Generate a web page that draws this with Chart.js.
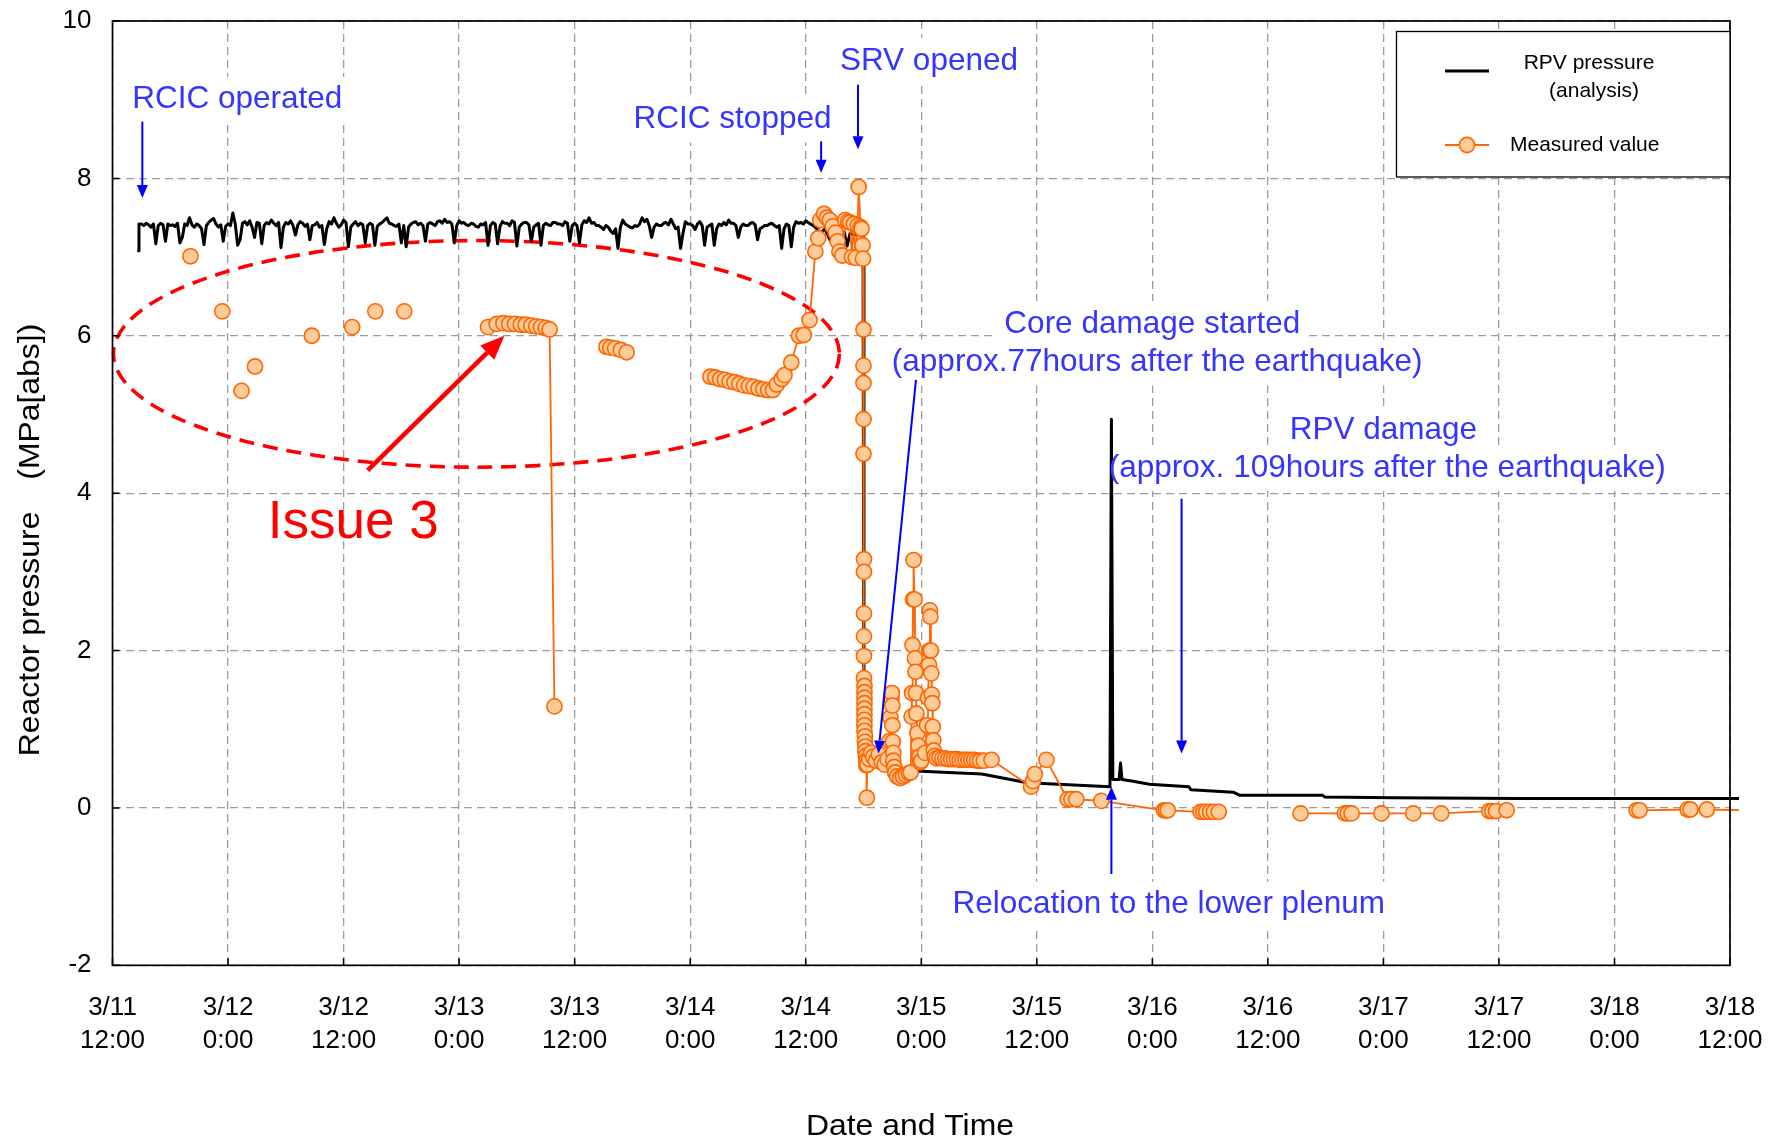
<!DOCTYPE html>
<html>
<head>
<meta charset="utf-8">
<script src="https://cdn.jsdelivr.net/npm/chart.js@4/dist/chart.umd.min.js"></script>
<style>
html,body{margin:0;padding:0;background:#fff;}
#wrap{width:1775px;height:1141px;position:relative;overflow:hidden;}
canvas{display:block;}
</style>
</head>
<body>
<div id="wrap"><canvas id="c" width="1775" height="1141"></canvas></div>
<script>
// ---------------- DATA (x = hours counted from 3/11 0:00) ----------------
const xTickHours = [12,24,36,48,60,72,84,96,108,120,132,144,156,168,180];
const xTickDates = ['3/11','3/12','3/12','3/13','3/13','3/14','3/14','3/15','3/15','3/16','3/16','3/17','3/17','3/18','3/18'];
const xTickTimes = ['12:00','0:00','12:00','0:00','12:00','0:00','12:00','0:00','12:00','0:00','12:00','0:00','12:00','0:00','12:00'];
const yTickValues = [-2,0,2,4,6,8,10];

const analysisLabel = 'RPV pressure (analysis)';
const analysisHours = [
 14.7,14.75,
 15.0,15.25,15.5,15.75,16.0,16.25,16.5,16.75,17.0,17.25,17.5,17.75,18.0,18.25,18.5,18.75,19.0,19.25,19.5,19.75,
 20.0,20.25,20.5,20.75,21.0,21.25,21.5,21.75,22.0,22.25,22.5,22.75,23.0,23.25,23.5,23.75,24.0,24.25,24.5,24.75,
 25.0,25.25,25.5,25.75,26.0,26.25,26.5,26.75,27.0,27.25,27.5,27.75,28.0,28.25,28.5,28.75,29.0,29.25,29.5,29.75,
 30.0,30.25,30.5,30.75,31.0,31.25,31.5,31.75,32.0,32.25,32.5,32.75,33.0,33.25,33.5,33.75,34.0,34.25,34.5,34.75,
 35.0,35.25,35.5,35.75,36.0,36.25,36.5,36.75,37.0,37.25,37.5,37.75,38.0,38.25,38.5,38.75,39.0,39.25,39.5,39.75,
 40.0,40.25,40.5,40.75,41.0,41.25,41.5,41.75,42.0,42.25,42.5,42.75,43.0,43.25,43.5,43.75,44.0,44.25,44.5,44.75,
 45.0,45.25,45.5,45.75,46.0,46.25,46.5,46.75,47.0,47.25,47.5,47.75,48.0,48.25,48.5,48.75,49.0,49.25,49.5,49.75,
 50.0,50.25,50.5,50.75,51.0,51.25,51.5,51.75,52.0,52.25,52.5,52.75,53.0,53.25,53.5,53.75,54.0,54.25,54.5,54.75,
 55.0,55.25,55.5,55.75,56.0,56.25,56.5,56.75,57.0,57.25,57.5,57.75,58.0,58.25,58.5,58.75,59.0,59.25,59.5,59.75,
 60.0,60.25,60.5,60.75,61.0,61.25,61.5,61.75,62.0,62.25,62.5,62.75,63.0,63.25,63.5,63.75,64.0,64.25,64.5,64.75,
 65.0,65.25,65.5,65.75,66.0,66.25,66.5,66.75,67.0,67.25,67.5,67.75,68.0,68.25,68.5,68.75,69.0,69.25,69.5,69.75,
 70.0,70.25,70.5,70.75,71.0,71.25,71.5,71.75,72.0,72.25,72.5,72.75,73.0,73.25,73.5,73.75,74.0,74.25,74.5,74.75,
 75.0,75.25,75.5,75.75,76.0,76.25,76.5,76.75,77.0,77.25,77.5,77.75,78.0,78.25,78.5,78.75,79.0,79.25,79.5,79.75,
 80.0,80.25,80.5,80.75,81.0,81.25,81.5,81.75,82.0,82.25,82.5,82.75,83.0,83.25,83.5,83.75,84.0,84.25,84.5,84.75,
 85.0,85.5,86.0,86.5,87.0,87.5,88.0,88.3,88.6,89.0,89.5,89.95,
 90.05,91.0,93.0,95.4,102.3,107.0,115.6,115.75,115.9,116.55,116.7,116.85,
 118.0,119.7,123.8,124.0,128.4,129.1,137.7,137.9,145.0,158.1,182.0
];
const analysisMPa = [
 7.08,7.42,
 7.42,7.40,7.43,7.41,7.38,7.42,7.17,7.40,7.43,7.41,7.20,7.42,7.40,7.41,7.39,7.43,7.18,7.25,7.42,7.40,
 7.50,7.41,7.38,7.42,7.40,7.36,7.16,7.40,7.44,7.47,7.49,7.42,7.38,7.41,7.20,7.39,7.42,7.40,7.56,7.42,
 7.15,7.22,7.43,7.45,7.41,7.46,7.38,7.25,7.44,7.43,7.17,7.40,7.44,7.42,7.47,7.43,7.40,7.44,7.12,7.38,
 7.44,7.42,7.46,7.40,7.28,7.41,7.45,7.43,7.39,7.42,7.22,7.40,7.41,7.44,7.38,7.40,7.16,7.36,7.45,7.42,
 7.50,7.43,7.38,7.41,7.47,7.44,7.13,7.38,7.42,7.45,7.40,7.43,7.41,7.18,7.40,7.43,7.41,7.15,7.39,7.42,
 7.44,7.47,7.50,7.43,7.42,7.40,7.39,7.42,7.18,7.40,7.13,7.38,7.42,7.44,7.45,7.41,7.43,7.40,7.20,7.42,
 7.44,7.42,7.40,7.45,7.46,7.43,7.48,7.44,7.45,7.42,7.18,7.40,7.46,7.43,7.44,7.41,7.40,7.43,7.42,7.39,
 7.38,7.42,7.41,7.44,7.15,7.40,7.44,7.42,7.17,7.39,7.45,7.43,7.43,7.40,7.46,7.44,7.14,7.38,7.42,7.44,
 7.44,7.41,7.20,7.38,7.41,7.43,7.15,7.40,7.43,7.41,7.40,7.44,7.44,7.42,7.42,7.40,7.45,7.43,7.20,7.40,
 7.43,7.40,7.18,7.41,7.46,7.44,7.50,7.43,7.44,7.40,7.40,7.38,7.35,7.40,7.38,7.33,7.30,7.36,7.11,7.38,
 7.47,7.42,7.40,7.38,7.37,7.40,7.39,7.42,7.50,7.45,7.48,7.40,7.25,7.38,7.42,7.40,7.40,7.43,7.44,7.41,
 7.48,7.42,7.36,7.38,7.11,7.30,7.45,7.42,7.42,7.40,7.35,7.42,7.45,7.40,7.15,7.38,7.40,7.42,7.15,7.36,
 7.42,7.40,7.44,7.41,7.47,7.43,7.43,7.40,7.25,7.38,7.42,7.40,7.40,7.43,7.44,7.41,7.22,7.36,7.38,7.40,
 7.40,7.42,7.43,7.40,7.38,7.40,7.11,7.36,7.42,7.40,7.13,7.38,7.45,7.43,7.44,7.42,7.46,7.44,7.42,7.40,
 7.38,7.30,7.36,7.22,7.36,7.25,7.32,7.14,7.30,7.28,7.30,7.25,
 0.75,0.62,0.53,0.47,0.43,0.32,0.27,4.94,0.36,0.36,0.57,0.36,
 0.34,0.30,0.27,0.23,0.20,0.16,0.16,0.14,0.13,0.12,0.12
];

const measuredLabel = 'Measured value';
const measuredHours = [
 20.1,21.7, 23.4,24.4, 25.4,26.1, 26.8,29.7, 32.7,34.8, 36.9,38.1, 39.3,40.8, 42.3,46.6,
 51.0,51.9,52.6,53.2,53.8,54.4,54.9,55.5,56.0,56.5,57.0,57.4,57.9,60.6,
 63.3,63.7,64.2,64.8,65.4,69.7,
 74.1,74.6,75.1,75.6,76.1,76.6,77.1,77.6,78.1,78.6,79.1,79.6,80.1,80.6,81.0,81.5,81.8,82.5,83.3,83.8,84.4,
 85.0,85.3,85.5,85.9,86.2,86.5,86.8,87.1,87.3,87.5,87.8,88.1,88.4,88.6,88.8,89.0,89.2,89.4,89.5,89.7,89.8,89.9,89.95,
 90.0,90.0,90.0,90.0,90.0,90.05,90.05,90.05,90.05,90.05,90.05,90.1,90.1,90.1,90.1,90.1,90.1,90.1,90.1,90.1,90.15,90.15,90.2,90.2,90.25,90.3,90.3,90.35,90.4,
 90.6,90.8,91.0,91.3,91.6,91.9,92.2,92.5,92.7,92.8,92.9,92.95,93.0,93.0,93.05,93.1,93.1,93.2,93.3,93.5,93.8,94.1,94.4,94.7,
 94.9,95.0,95.05,95.1,95.15,95.2,95.3,95.35,95.4,95.45,95.5,95.6,95.7,95.8,95.9,
 96.0,96.4,96.6,96.7,96.8,96.85,96.9,96.95,97.0,97.05,97.1,97.15,97.2,97.25,97.3,97.4,97.6,97.9,98.2,98.5,
 98.8,99.1,99.4,99.7,100.0,100.3,100.6,100.9,101.2,101.5,101.8,102.1,102.5,103.3,
 107.4,107.6,107.8,109.0,111.2,111.6,112.1,114.7,121.2,121.4,121.6,125.0,125.3,125.6,126.0,126.4,126.9,131.0,
 135.4,140.0,140.3,140.7,143.8,147.1,150.0,155.0,155.3,155.7,156.8,163.0,
 170.3,170.6,175.6,175.9,177.6,182.0
];
const measuredMPa = [
 7.01,null, 6.31,null, 5.30,null, 5.61,null, 6.00,null, 6.11,null, 6.31,null, 6.31,null,
 6.11,6.15,6.16,6.15,6.15,6.14,6.14,6.13,6.12,6.11,6.10,6.08,1.29,null,
 5.86,5.85,5.84,5.82,5.79,null,
 5.48,5.47,5.45,5.44,5.42,5.41,5.39,5.37,5.36,5.35,5.33,5.32,5.31,5.31,5.38,5.45,5.50,5.66,6.00,6.01,6.20,
 7.07,7.24,7.47,7.55,7.50,7.47,7.39,7.31,7.20,7.07,7.02,7.47,7.45,7.44,7.00,7.42,6.99,7.40,7.89,7.38,7.36,7.15,6.98,
 6.08,5.62,5.40,4.94,4.50,3.16,3.00,2.47,2.18,1.93,1.65,1.55,1.47,1.40,1.33,1.26,1.19,1.12,1.05,0.98,0.91,0.84,0.78,0.72,0.66,0.60,0.54,0.13,0.55,
 0.62,0.70,0.65,0.60,0.68,0.58,0.55,0.62,0.85,1.15,1.40,1.46,1.30,1.05,0.84,0.70,0.60,0.52,0.45,0.40,0.38,0.40,0.42,0.44,
 0.45,1.16,1.46,2.07,2.65,3.15,2.65,1.90,1.73,1.46,1.20,0.95,0.79,0.65,0.58,
 0.60,0.70,1.05,1.40,1.82,2.00,2.51,2.43,2.00,1.71,1.44,1.33,1.03,0.86,0.73,0.66,0.63,0.64,0.63,0.63,
 0.62,0.62,0.62,0.62,0.61,0.61,0.61,0.61,0.61,0.61,0.60,0.60,0.60,0.61,
 0.27,0.34,0.43,0.61,0.11,0.11,0.11,0.09,-0.03,-0.03,-0.03,-0.05,-0.05,-0.05,-0.05,-0.05,-0.05,null,
 -0.07,-0.07,-0.07,-0.07,-0.07,-0.07,-0.07,-0.04,-0.04,-0.04,-0.03,null,
 -0.03,-0.03,-0.02,-0.02,-0.02,-0.03
];

// ---------------- ANNOTATIONS (in data units) ----------------
const noteTexts = [
 {t:'RCIC operated', x:24.95, y:9.0},
 {t:'RCIC stopped', x:76.4, y:8.75},
 {t:'SRV opened', x:96.8, y:9.49},
 {t:'Core damage started', x:120.0, y:6.15},
 {t:'(approx.77hours after the earthquake)', x:120.5, y:5.66},
 {t:'RPV damage', x:144.0, y:4.80},
 {t:'(approx. 109hours after the earthquake)', x:144.4, y:4.32},
 {t:'Relocation to the lower plenum', x:121.7, y:-1.23}
];
const noteArrows = [
 {x1:15.1, y1:8.72, x2:15.1, y2:7.75},
 {x1:85.6, y1:8.47, x2:85.6, y2:8.07},
 {x1:89.43, y1:9.19, x2:89.43, y2:8.37},
 {x1:95.45, y1:5.44, x2:91.54, y2:0.69},
 {x1:123.04, y1:3.93, x2:123.04, y2:0.69},
 {x1:115.75, y1:-0.84, x2:115.75, y2:0.27}
];
const issueText = {t:'Issue 3', x:37.0, y:3.62};
const issueArrow = {x1:38.5, y1:4.29, x2:52.7, y2:6.0};
const issueEllipse = {cx:49.8, cy:5.77, rx:37.7, ry:1.44};
const xTitle = 'Date and Time';
const yTitle = 'Reactor pressure\u3000(MPa[abs])';
const legendRows = [['RPV pressure','(analysis)'], ['Measured value']];

// ---------------- STYLE ----------------
const FONT = "'Liberation Sans', Arial, Helvetica, sans-serif";
const BLUE_TEXT = '#3535ff';
const BLUE_ARROW = '#0000ff';
const ORANGE = '#ff6600';
const PEACH = '#ffcc99';
const GRID = '#9c9c9c';

const toXY = (hs, vs) => hs.map((h, i) => ({x: h, y: vs[i]}));

function arrow(ctx, x1, y1, x2, y2, color, lw, headLen, headHalf) {
  const a = Math.atan2(y2 - y1, x2 - x1);
  const bx = x2 - headLen * Math.cos(a), by = y2 - headLen * Math.sin(a);
  ctx.strokeStyle = color; ctx.fillStyle = color; ctx.lineWidth = lw;
  ctx.beginPath(); ctx.moveTo(x1, y1); ctx.lineTo(bx, by); ctx.stroke();
  ctx.beginPath();
  ctx.moveTo(x2, y2);
  ctx.lineTo(bx + headHalf * Math.sin(a), by - headHalf * Math.cos(a));
  ctx.lineTo(bx - headHalf * Math.sin(a), by + headHalf * Math.cos(a));
  ctx.closePath(); ctx.fill();
}

const annot = {
  id: 'annot',
  beforeDatasetsDraw(c) {
    const ctx = c.ctx, X = c.scales.x, Y = c.scales.y;
    ctx.save();
    ctx.font = '31.5px ' + FONT;
    ctx.fillStyle = '#fff';
    noteTexts.forEach(n => {
      const w = ctx.measureText(n.t).width;
      const x = X.getPixelForValue(n.x), y = Y.getPixelForValue(n.y);
      ctx.fillRect(x - w / 2 - 7, y - 23, w + 14, 46);
    });
    const cx = X.getPixelForValue(issueEllipse.cx), cy = Y.getPixelForValue(issueEllipse.cy);
    const rx = X.getPixelForValue(issueEllipse.cx + issueEllipse.rx) - cx;
    const ry = cy - Y.getPixelForValue(issueEllipse.cy + issueEllipse.ry);
    ctx.strokeStyle = '#ff0000'; ctx.lineWidth = 3.6; ctx.setLineDash([15, 9]);
    ctx.beginPath(); ctx.ellipse(cx, cy, rx, ry, 0, 0, Math.PI * 2); ctx.stroke();
    ctx.setLineDash([]);
    ctx.restore();
  },
  afterDatasetsDraw(c) {
    const ctx = c.ctx, X = c.scales.x, Y = c.scales.y;
    ctx.save();
    noteArrows.forEach(a => arrow(ctx, X.getPixelForValue(a.x1), Y.getPixelForValue(a.y1),
      X.getPixelForValue(a.x2), Y.getPixelForValue(a.y2), BLUE_ARROW, 2, 13, 5.5));
    ctx.font = '31.5px ' + FONT; ctx.fillStyle = BLUE_TEXT;
    ctx.textAlign = 'center'; ctx.textBaseline = 'middle';
    noteTexts.forEach(n => ctx.fillText(n.t, X.getPixelForValue(n.x), Y.getPixelForValue(n.y)));
    arrow(ctx, X.getPixelForValue(issueArrow.x1), Y.getPixelForValue(issueArrow.y1),
      X.getPixelForValue(issueArrow.x2), Y.getPixelForValue(issueArrow.y2), '#ff0000', 4.6, 24, 10);
    ctx.font = '53px ' + FONT; ctx.fillStyle = '#ff0000';
    ctx.fillText(issueText.t, X.getPixelForValue(issueText.x), Y.getPixelForValue(issueText.y));
    ctx.restore();
  },
  afterDraw(c) {
    const ctx = c.ctx, A = c.chartArea, X = c.scales.x, Y = c.scales.y;
    ctx.save();
    ctx.strokeStyle = '#000'; ctx.lineWidth = 1.7;
    ctx.strokeRect(A.left, A.top, A.right - A.left, A.bottom - A.top);
    ctx.lineWidth = 1.5;
    ctx.beginPath();
    yTickValues.forEach(v => { const y = Y.getPixelForValue(v); ctx.moveTo(A.left, y); ctx.lineTo(A.left + 7, y); });
    xTickHours.forEach(v => { const x = X.getPixelForValue(v); ctx.moveTo(x, A.bottom); ctx.lineTo(x, A.bottom - 7); });
    ctx.stroke();
    ctx.fillStyle = '#000'; ctx.textAlign = 'center'; ctx.textBaseline = 'middle';
    ctx.font = '29px ' + FONT;
    ctx.save(); ctx.translate(910, 1127); ctx.scale(1.1, 1); ctx.fillText(xTitle, 0, 0); ctx.restore();
    ctx.save(); ctx.translate(31, 540); ctx.rotate(-Math.PI / 2); ctx.scale(1.1, 1); ctx.fillText(yTitle, 0, 0); ctx.restore();
    const L = 1396.5, T = 31.5, R = A.right, B = 177;
    ctx.fillStyle = '#fff'; ctx.fillRect(L, T, R - L, B - T);
    ctx.strokeStyle = '#000'; ctx.lineWidth = 1.3; ctx.strokeRect(L, T, R - L, B - T);
    ctx.strokeStyle = '#000'; ctx.lineWidth = 3;
    ctx.beginPath(); ctx.moveTo(1445, 71); ctx.lineTo(1489, 71); ctx.stroke();
    ctx.font = '21px ' + FONT; ctx.fillStyle = '#000';
    ctx.fillText(legendRows[0][0], 1589, 63);
    ctx.fillText(legendRows[0][1], 1594, 91);
    ctx.strokeStyle = ORANGE; ctx.lineWidth = 1.8;
    ctx.beginPath(); ctx.moveTo(1445, 145); ctx.lineTo(1489, 145); ctx.stroke();
    ctx.beginPath(); ctx.arc(1467, 145, 7.6, 0, Math.PI * 2);
    ctx.fillStyle = PEACH; ctx.fill(); ctx.lineWidth = 1.6; ctx.stroke();
    ctx.fillStyle = '#000'; ctx.textAlign = 'left';
    ctx.fillText(legendRows[1][0], 1510, 145);
    ctx.restore();
  }
};

Chart.defaults.font.family = FONT;
new Chart(document.getElementById('c'), {
  type: 'line',
  data: {
    datasets: [
      {
        label: measuredLabel, data: toXY(measuredHours, measuredMPa),
        borderColor: ORANGE, borderWidth: 1.8, backgroundColor: PEACH,
        pointRadius: 7.6, pointBorderWidth: 1.6, pointBackgroundColor: PEACH, pointBorderColor: ORANGE,
        tension: 0, spanGaps: false, order: 1, clip: {left: 5, top: 5, right: 9, bottom: 5}
      },
      {
        label: analysisLabel, data: toXY(analysisHours, analysisMPa),
        borderColor: '#000', borderWidth: 3, pointRadius: 0, tension: 0,
        borderJoinStyle: 'round', borderCapStyle: 'round', order: 2,
        clip: {left: 5, top: 5, right: 9, bottom: 5}
      }
    ]
  },
  options: {
    responsive: false, animation: false, devicePixelRatio: 1, events: [],
    layout: {autoPadding: false, padding: {left: 0, right: 45, top: 21, bottom: 0}},
    plugins: {legend: {display: false}, tooltip: {enabled: false}},
    scales: {
      x: {
        type: 'linear', min: 12, max: 180,
        afterBuildTicks: s => { s.ticks = xTickHours.map(v => ({value: v})); },
        afterFit: s => { s.height = 1141 - 965.3; s.paddingLeft = 0; s.paddingRight = 0; },
        grid: {color: GRID, lineWidth: 1.3, drawTicks: false},
        border: {display: false, dash: [8, 5]},
        ticks: {
          autoSkip: false, maxRotation: 0, minRotation: 0, padding: 26, color: '#000',
          font: {size: 26, lineHeight: 1.27},
          callback: v => { const i = xTickHours.indexOf(v); return [xTickDates[i], xTickTimes[i]]; }
        }
      },
      y: {
        type: 'linear', min: -2, max: 10,
        afterBuildTicks: s => { s.ticks = yTickValues.map(v => ({value: v})); },
        afterFit: s => { s.width = 112.5; s.paddingTop = 0; s.paddingBottom = 0; },
        grid: {color: GRID, lineWidth: 1.3, drawTicks: false},
        border: {display: false, dash: [8, 5]},
        ticks: {padding: 21, color: '#000', font: {size: 26}, callback: v => String(v)}
      }
    }
  },
  plugins: [annot]
});
</script>
</body>
</html>
